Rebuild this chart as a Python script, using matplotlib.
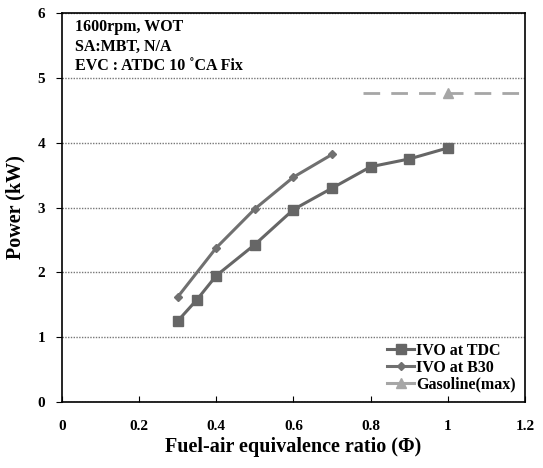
import matplotlib
matplotlib.use('Agg')
import matplotlib.pyplot as plt

plt.rcParams['font.family'] = ['Liberation Serif', 'DejaVu Serif']
plt.rcParams['font.weight'] = 'bold'

# data
phi_tdc = [0.3, 0.35, 0.4, 0.5, 0.6, 0.7, 0.8, 0.9, 1.0]
power_tdc = [1.25, 1.58, 1.95, 2.43, 2.97, 3.30, 3.63, 3.75, 3.92]
phi_b30 = [0.3, 0.4, 0.5, 0.6, 0.7]
power_b30 = [1.62, 2.38, 2.98, 3.47, 3.82]
phi_gas = [1.0]
power_gas = [4.77]
gas_line_x = [0.78, 1.2]

fig = plt.figure(figsize=(5.43, 4.68), dpi=100)
ax = fig.add_axes([0.114, 0.141, 0.853, 0.831])

ax.plot(phi_tdc, power_tdc, color='#666666', marker='s', markersize=7, linewidth=2.2,
        label='IVO at TDC')
ax.plot(phi_b30, power_b30, color='#707070', marker='D', markersize=4.5, linewidth=2.2,
        label='IVO at B30')
ax.plot(gas_line_x, power_gas * 2, color='#a6a6a6', linestyle=(0, (6, 4)), linewidth=2)
ax.plot(phi_gas, power_gas, color='#a6a6a6', marker='^', markersize=7, linestyle='none')
# legend proxy for gasoline (solid line + triangle)
ax.plot([], [], color='#a6a6a6', marker='^', markersize=7, linewidth=2.2, label='Gasoline(max)')

ax.set_xlim(0, 1.2)
ax.set_ylim(0, 6)
ax.set_xticks([0, 0.2, 0.4, 0.6, 0.8, 1.0, 1.2])
ax.set_xticklabels(['0', '0.2', '0.4', '0.6', '0.8', '1', '1.2'])
ax.set_yticks(range(0, 7))
ax.yaxis.grid(True, linestyle=(0, (1, 1)), color='#777777', linewidth=1)
ax.set_axisbelow(True)

ax.tick_params(axis='x', direction='in', length=4, pad=13, labelsize=11)
ax.tick_params(axis='y', direction='out', length=4, pad=8, labelsize=11)
for s in ax.spines.values():
    s.set_linewidth(1.2)

ax.set_xlabel('Fuel-air equivalence ratio (\u03a6)', fontsize=14.5, fontweight='bold', labelpad=3)
ax.set_ylabel('Power (kW)', fontsize=14.5, fontweight='bold', labelpad=9)

ax.text(0.028, 0.985, '1600rpm, WOT\nSA:MBT, N/A\nEVC : ATDC 10 \u02daCA Fix',
        transform=ax.transAxes, ha='left', va='top', fontsize=11.5,
        fontweight='bold', linespacing=1.3)

ax.legend(loc='lower right', frameon=False, fontsize=11.5, handlelength=1.7,
          handletextpad=0.1, labelspacing=0.05, borderaxespad=0.2,
          bbox_to_anchor=(1.0, 0.0))

fig.savefig('out.png', dpi=100, facecolor='white')
